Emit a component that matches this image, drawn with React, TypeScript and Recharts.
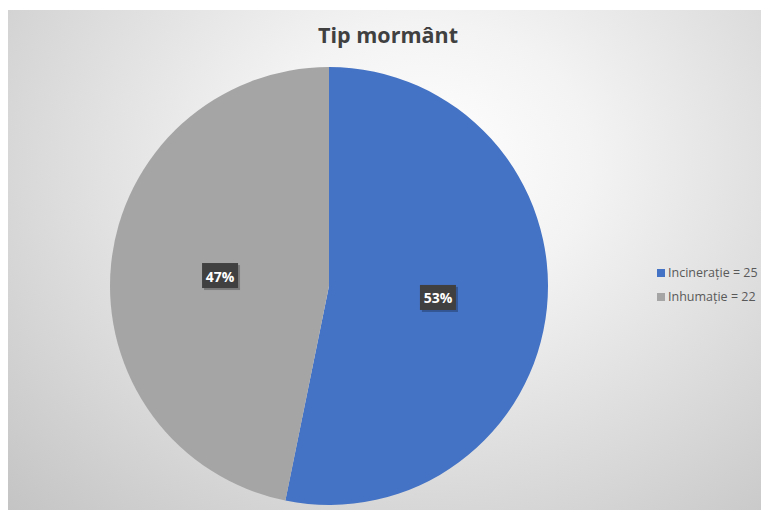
import { PieChart, Pie, Cell, Legend } from "recharts"

const categories = ["Incinerație", "Inhumație"]
const counts = [25, 22]
const COLORS = ["#4472C4", "#A5A5A5"]

const data = categories.map((name, i) => ({ name, value: counts[i] }))

const RAD = Math.PI / 180

function renderLabel(props: any) {
  const { cx, cy, midAngle, outerRadius, percent } = props
  const r = outerRadius * 0.5
  const x = cx + r * Math.cos(-midAngle * RAD)
  const y = cy + r * Math.sin(-midAngle * RAD)
  const txt = `${Math.round(percent * 100)}%`
  return (
    <g>
      <rect x={x - 18} y={y - 12} width={36} height={25} fill="#000" opacity={0.25} transform="translate(2,2)" />
      <rect x={x - 18} y={y - 12} width={36} height={25} fill="#404040" />
      <text x={x} y={y + 1} fill="#fff" textAnchor="middle" dominantBaseline="central" fontSize={14} fontWeight={700} fontFamily="'Open Sans', sans-serif">
        {txt}
      </text>
    </g>
  )
}

function LegendBox() {
  return (
    <div style={{ fontFamily: "'Open Sans', sans-serif", fontSize: 12.5, color: "#595959", lineHeight: "24px" }}>
      {data.map((d, i) => (
        <div key={d.name} style={{ display: "flex", alignItems: "center", whiteSpace: "nowrap" }}>
          <span style={{ display: "inline-block", width: 8, height: 8, background: COLORS[i], marginRight: 3 }} />
          {`${d.name} = ${d.value}`}
        </div>
      ))}
    </div>
  )
}

export default function App() {
  return (
    <>
      <style>{`html,body{margin:0;overflow:hidden}`}</style>
      <div
        style={{
          position: "relative",
          marginLeft: 8,
          marginTop: 10,
          width: 760,
          height: 500,
          background: "radial-gradient(ellipse at 55% 30%, #ffffff 0%, #f3f3f3 28%, #c4c4c4 100%)",
        }}
      >
        <div
          style={{
            position: "absolute",
            top: 10,
            left: 0,
            width: 760,
            textAlign: "center",
            fontFamily: "'Open Sans', sans-serif",
            fontWeight: 700,
            fontSize: 21.5,
            color: "#404040",
          }}
        >
          Tip mormânt
        </div>
        <PieChart width={753} height={500} style={{ position: "absolute", left: 0, top: 0 }}>
          <Pie
            data={data}
            dataKey="value"
            nameKey="name"
            cx={316}
            cy={271}
            outerRadius={219}
            startAngle={90}
            endAngle={-270}
            stroke="none"
            label={renderLabel}
            labelLine={false}
            isAnimationActive={false}
          >
            {data.map((entry, index) => (
              <Cell key={`cell-${index}`} fill={COLORS[index % COLORS.length]} />
            ))}
          </Pie>
          <Legend
            layout="vertical"
            content={() => <LegendBox />}
            wrapperStyle={{ left: 649, top: 251, width: 112 }}
          />
        </PieChart>
      </div>
    </>
  )
}
